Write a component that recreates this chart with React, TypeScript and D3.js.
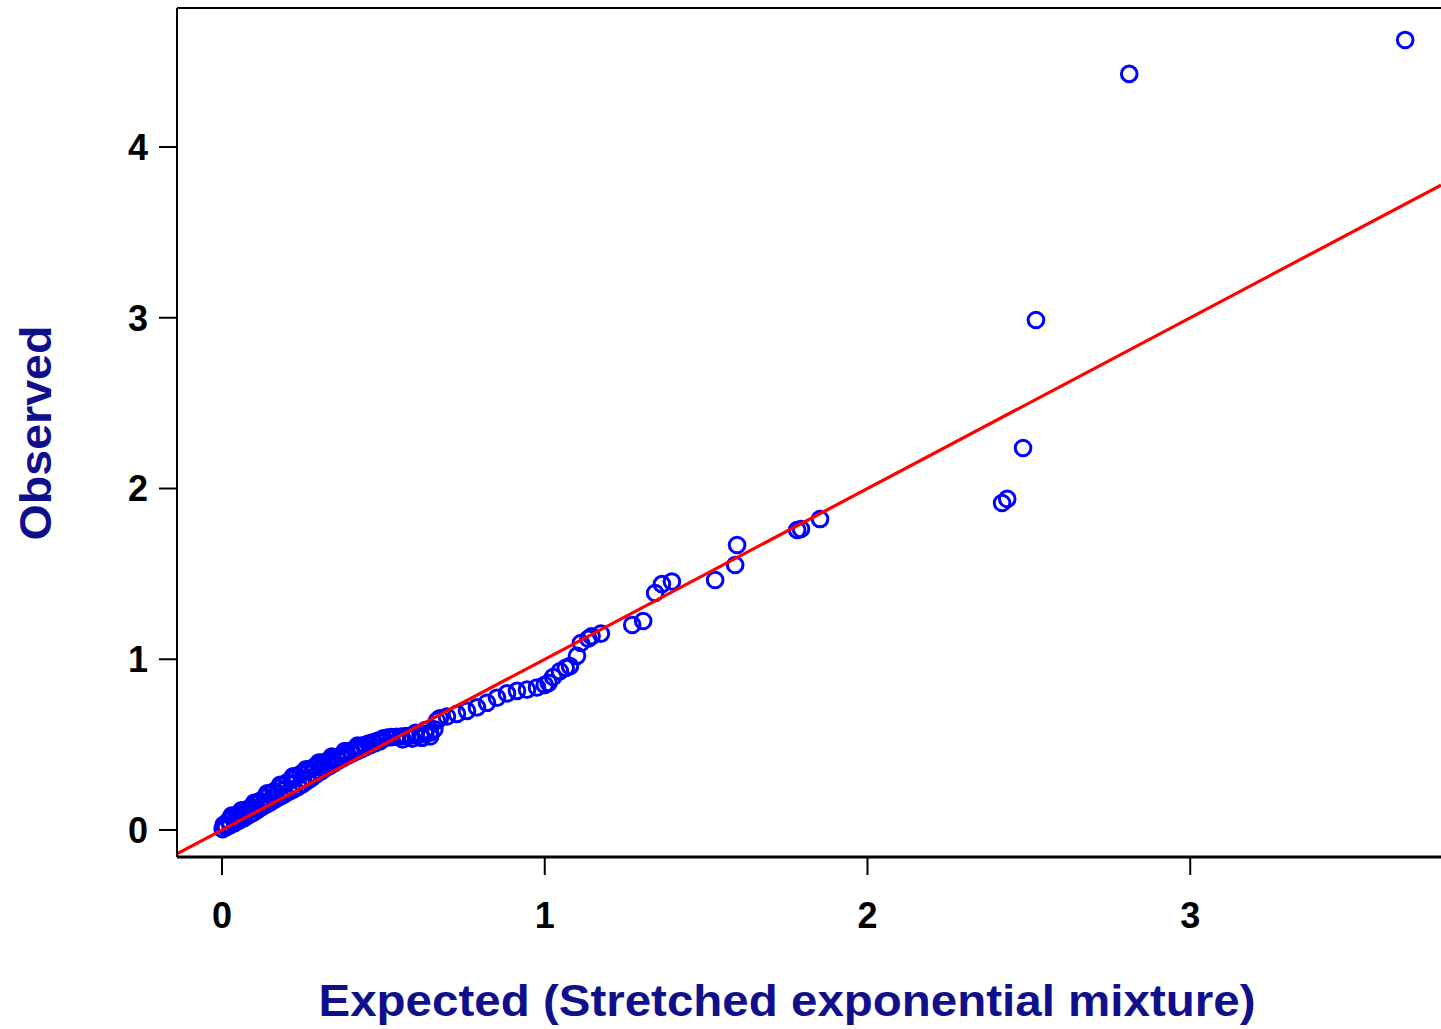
import React from "react";
import * as d3 from "d3";

// Dense band near the origin (overlapping rows of quantiles)
const bandTopExpected: number[] = [
  0.030, 0.060, 0.100, 0.140, 0.180, 0.220, 0.260, 0.300, 0.340, 0.380, 0.420,
];
const bandTopObserved: number[] = [
  0.085, 0.115, 0.160, 0.215, 0.265, 0.315, 0.355, 0.395, 0.430, 0.462, 0.495,
];
const bandUpperExpected: number[] = [
  0.005, 0.020, 0.034, 0.048, 0.062, 0.076, 0.090, 0.104, 0.118, 0.132,
  0.146, 0.160, 0.174, 0.188, 0.202, 0.216, 0.230, 0.244, 0.258, 0.272,
  0.286, 0.300, 0.314, 0.328, 0.342, 0.356, 0.370, 0.384, 0.398, 0.412,
  0.426, 0.440, 0.454, 0.468, 0.482, 0.496,
];
const bandUpperObserved: number[] = [
  0.030, 0.055, 0.076, 0.090, 0.104, 0.120, 0.135, 0.152, 0.170, 0.190,
  0.208, 0.226, 0.244, 0.262, 0.280, 0.297, 0.314, 0.329, 0.342, 0.356,
  0.370, 0.384, 0.396, 0.406, 0.416, 0.428, 0.440, 0.452, 0.464, 0.476,
  0.488, 0.498, 0.506, 0.514, 0.522, 0.530,
];
const bandMiddleExpected: number[] = [
  0.010, 0.040, 0.070, 0.100, 0.130, 0.160, 0.190, 0.220, 0.250, 0.280,
  0.310, 0.340, 0.370, 0.400, 0.430, 0.460, 0.490,
];
const bandMiddleObserved: number[] = [
  0.025, 0.058, 0.090, 0.125, 0.160, 0.196, 0.232, 0.268, 0.298, 0.332,
  0.366, 0.396, 0.425, 0.452, 0.478, 0.502, 0.524,
];
const bandLowerExpected: number[] = [
  0.002, 0.012, 0.026, 0.040, 0.054, 0.068, 0.082, 0.096, 0.110, 0.124,
  0.138, 0.152, 0.166, 0.180, 0.194, 0.208, 0.222, 0.236, 0.250, 0.264,
  0.278, 0.292, 0.306, 0.320, 0.334, 0.348, 0.362, 0.376, 0.390, 0.404,
  0.418, 0.432, 0.446, 0.460, 0.474, 0.488,
];
const bandLowerObserved: number[] = [
  0.005, 0.015, 0.028, 0.042, 0.056, 0.070, 0.086, 0.100, 0.118, 0.135,
  0.150, 0.165, 0.180, 0.195, 0.210, 0.224, 0.238, 0.252, 0.268, 0.288,
  0.305, 0.325, 0.342, 0.360, 0.376, 0.392, 0.408, 0.422, 0.436, 0.448,
  0.462, 0.474, 0.486, 0.498, 0.508, 0.518,
];

// Remaining quantiles
const tailExpected: number[] = [
  0.500, 0.512, 0.525, 0.540, 0.555, 0.560, 0.570, 0.585, 0.590, 0.600,
  0.600, 0.615, 0.620, 0.630, 0.630, 0.645, 0.645, 0.658, 0.666, 0.675,
  0.697, 0.728, 0.759, 0.790, 0.821, 0.852, 0.883, 0.914, 0.945, 0.976,
  1.000, 1.012, 1.026, 1.047, 1.065, 1.078, 1.100, 1.112, 1.135, 1.145,
  1.174, 1.271, 1.305, 1.342, 1.363, 1.394, 1.528, 1.590, 1.596, 1.782,
  1.794, 1.853, 2.417, 2.433, 2.482, 2.522, 2.811, 3.666,
];
const tailObserved: number[] = [
  0.537, 0.541, 0.544, 0.546, 0.548, 0.530, 0.550, 0.552, 0.535, 0.555,
  0.570, 0.558, 0.540, 0.562, 0.585, 0.548, 0.570, 0.590, 0.640, 0.655,
  0.665, 0.680, 0.698, 0.718, 0.745, 0.775, 0.800, 0.815, 0.822, 0.835,
  0.850, 0.862, 0.896, 0.930, 0.950, 0.960, 1.020, 1.095, 1.120, 1.135,
  1.150, 1.201, 1.224, 1.388, 1.440, 1.455, 1.464, 1.552, 1.669, 1.757,
  1.763, 1.821, 1.915, 1.939, 2.237, 2.987, 4.428, 4.627,
];

const xTicks: number[] = [0, 1, 2, 3];
const yTicks: number[] = [0, 1, 2, 3, 4];

const xTitle = "Expected (Stretched exponential mixture)";
const yTitle = "Observed";

export default function App() {
  const W = 1441;
  const H = 1029;
  const left = 177;
  const right = 1441;
  const top = 8;
  const bottom = 857;

  const x = d3.scaleLinear().domain([-0.1395, 3.777]).range([left, right]);
  const y = d3.scaleLinear().domain([-0.158, 4.814]).range([bottom, top]);

  const expectedAll = [
    ...bandTopExpected,
    ...bandUpperExpected,
    ...bandMiddleExpected,
    ...bandLowerExpected,
    ...tailExpected,
  ];
  const observedAll = [
    ...bandTopObserved,
    ...bandUpperObserved,
    ...bandMiddleObserved,
    ...bandLowerObserved,
    ...tailObserved,
  ];
  const pts = expectedAll.map((e, i) => ({ e, o: observedAll[i] }));

  const [d0, d1] = x.domain();
  const refLine = d3.line<number>().x((v) => x(v)).y((v) => y(v))([d0, d1]);

  const tickFont = "'Liberation Sans', Arial, sans-serif";
  const navy = "#10108a";

  return (
    <svg
      width={W}
      height={H}
      style={{ position: "absolute", left: 0, top: 0, background: "#fff" }}
    >
      <defs>
        <clipPath id="plotClip">
          <rect x={left} y={top} width={right - left} height={bottom - top} />
        </clipPath>
      </defs>
      <rect x={0} y={0} width={W} height={H} fill="#fff" />

      <g clipPath="url(#plotClip)">
        {pts.map((p, i) => (
          <circle
            key={i}
            cx={x(p.e)}
            cy={y(p.o)}
            r={7.8}
            fill="none"
            stroke="#0000ff"
            strokeWidth={3}
          />
        ))}
        <path d={refLine || ""} stroke="#ff0000" strokeWidth={3.2} fill="none" />
      </g>

      {/* plot frame */}
      <line x1={left} y1={top} x2={right + 2} y2={top} stroke="#000" strokeWidth={2} />
      <line x1={left} y1={top} x2={left} y2={bottom} stroke="#000" strokeWidth={2} />
      <line x1={left} y1={bottom} x2={right + 2} y2={bottom} stroke="#000" strokeWidth={3} />

      {/* x axis ticks */}
      {xTicks.map((t) => (
        <g key={"x" + t}>
          <line x1={x(t)} x2={x(t)} y1={bottom} y2={bottom + 18} stroke="#000" strokeWidth={2} />
          <text
            x={x(t)}
            y={928}
            textAnchor="middle"
            fontFamily={tickFont}
            fontWeight="bold"
            fontSize={36}
            fill="#000"
          >
            {t}
          </text>
        </g>
      ))}

      {/* y axis ticks */}
      {yTicks.map((t) => (
        <g key={"y" + t}>
          <line x1={left - 18} x2={left} y1={y(t)} y2={y(t)} stroke="#000" strokeWidth={2} />
          <text
            x={148}
            y={y(t)}
            dy="0.36em"
            textAnchor="end"
            fontFamily={tickFont}
            fontWeight="bold"
            fontSize={36}
            fill="#000"
          >
            {t}
          </text>
        </g>
      ))}

      {/* axis titles */}
      <text
        x={787}
        y={1016}
        textAnchor="middle"
        fontFamily={tickFont}
        fontWeight="bold"
        fontSize={44}
        fill={navy}
        textLength={937}
        lengthAdjust="spacingAndGlyphs"
      >
        {xTitle}
      </text>
      <text
        transform={`translate(51, 433) rotate(-90)`}
        textAnchor="middle"
        fontFamily={tickFont}
        fontWeight="bold"
        fontSize={44}
        fill={navy}
        textLength={215}
        lengthAdjust="spacingAndGlyphs"
      >
        {yTitle}
      </text>
    </svg>
  );
}
